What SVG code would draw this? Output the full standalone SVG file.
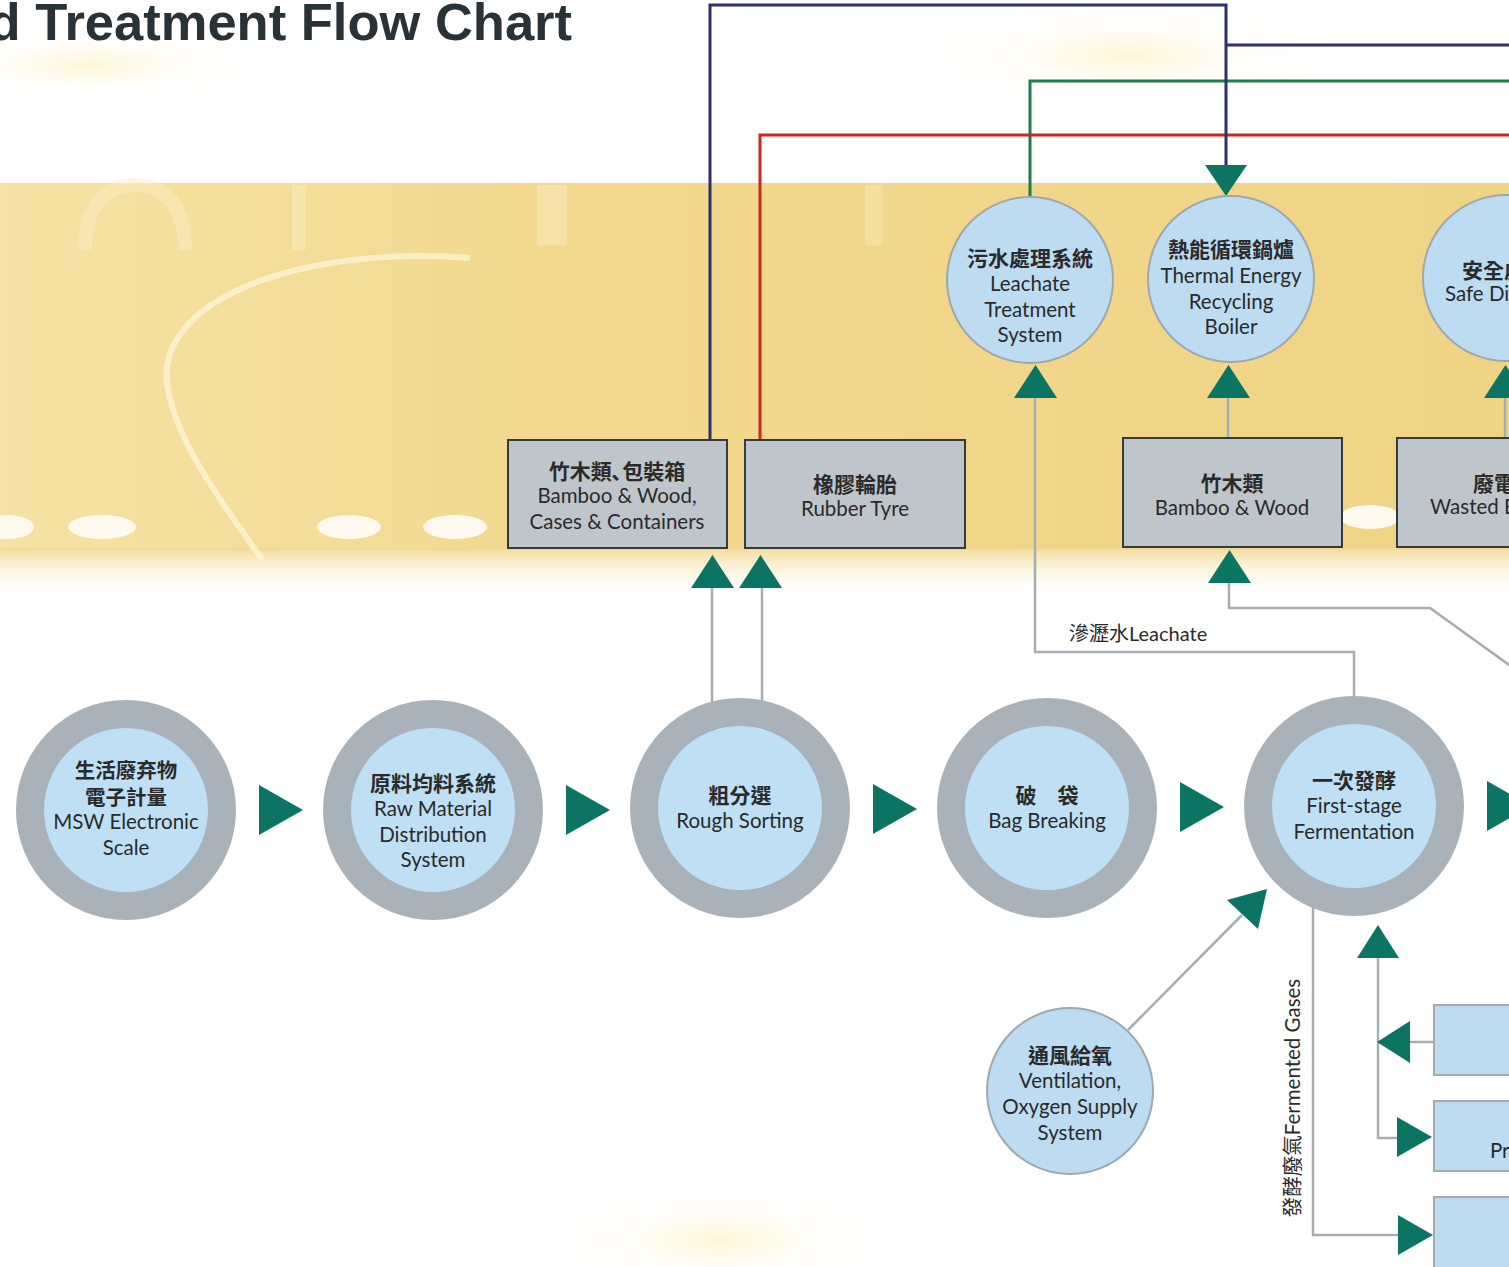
<svg xmlns="http://www.w3.org/2000/svg" width="1509" height="1267" viewBox="0 0 1509 1267">
<defs>
<linearGradient id="band" x1="0" y1="0" x2="1" y2="0">
<stop offset="0" stop-color="#f5e2a4"/>
<stop offset="0.35" stop-color="#f2d98f"/>
<stop offset="1" stop-color="#f0d485"/>
</linearGradient>
<linearGradient id="fade" x1="0" y1="0" x2="0" y2="1">
<stop offset="0" stop-color="#f2d98f" stop-opacity="0.9"/>
<stop offset="1" stop-color="#ffffff" stop-opacity="0"/>
</linearGradient>
<radialGradient id="glow" cx="0.5" cy="0.5" r="0.5">
<stop offset="0" stop-color="#fbf0b8" stop-opacity="0.6"/>
<stop offset="1" stop-color="#ffffff" stop-opacity="0"/>
</radialGradient>
</defs>
<style>
.cn{font-family:"Noto Sans CJK TC","Noto Sans CJK SC",sans-serif;font-weight:700;font-size:21px;fill:#2a2a2a;text-anchor:middle}
.en{font-family:Lato,"Noto Sans","Noto Sans CJK TC",sans-serif;font-size:20.5px;fill:#2a2a2a;text-anchor:middle}
.ring{fill:#a9b2b8}
.core{fill:#bfe0f4}
.sub{fill:#bddcf1;stroke:#9ea8ae;stroke-width:2}
.box{fill:#bec6cb;stroke:#363a3c;stroke-width:2}
.rbox{fill:#bddcf2;stroke:#a2abb1;stroke-width:2}
.tri{fill:#0b7462}
.gl{stroke:#a6aeb3;stroke-width:2.5;fill:none}
.navy{stroke:#2e2f6b;stroke-width:3;fill:none}
.green{stroke:#1f7c4c;stroke-width:3;fill:none}
.red{stroke:#c8281e;stroke-width:3;fill:none}
</style>
<rect width="1509" height="1267" fill="#ffffff"/>
<g id="background">
<ellipse cx="90" cy="65" rx="170" ry="35" fill="url(#glow)"/>
<ellipse cx="1130" cy="55" rx="200" ry="50" fill="url(#glow)"/>
<ellipse cx="720" cy="1240" rx="160" ry="50" fill="url(#glow)"/>
<rect x="0" y="183" width="1509" height="367" fill="url(#band)"/>
<rect x="0" y="548" width="1509" height="50" fill="url(#fade)"/>
<path d="M85,250 C85,200 110,185 135,185 C160,185 185,200 185,250" fill="none" stroke="#fbeec4" stroke-width="14" opacity="0.5"/>
<rect x="292" y="185" width="14" height="65" fill="#fbeec4" opacity="0.5"/>
<rect x="537" y="185" width="30" height="60" fill="#fbeec4" opacity="0.45"/>
<rect x="865" y="185" width="18" height="60" fill="#fbeec4" opacity="0.35"/>
<path d="M470,258 C300,245 150,300 168,390 C180,450 225,505 262,560" fill="none" stroke="#fdf6dc" stroke-width="6" opacity="0.7"/>
<ellipse cx="8" cy="527" rx="26" ry="12" fill="#fffaf0"/>
<ellipse cx="102" cy="527" rx="34" ry="12" fill="#fffaf0"/>
<ellipse cx="349" cy="527" rx="32" ry="12" fill="#fffaf0"/>
<ellipse cx="455" cy="527" rx="32" ry="12" fill="#fffaf0"/>
<ellipse cx="1370" cy="517" rx="30" ry="12" fill="#fffaf0"/>
</g>
<text id="title" x="572" y="40" font-family="Liberation Sans, Arial, sans-serif" font-weight="700" font-size="52.5" fill="#283237" text-anchor="end">d Treatment Flow Chart</text>
<g id="connectors">
<path class="green" d="M1030,197 V81 H1509"/>
<path class="red" d="M760,440 V135 H1509"/>
<path class="navy" d="M710,440 V5 H1226 V168 M1226,45 H1509"/>
<path class="tri" d="M1205,165 L1247,165 L1226,196 Z"/>
<path class="gl" d="M712,703 V586 M762,703 V586"/>
<path class="tri" d="M691,588 L734,588 L712.5,555 Z"/>
<path class="tri" d="M739,588 L782,588 L760.5,555 Z"/>
<path class="gl" d="M1354,698 V652 H1035 V396"/>
<path class="tri" d="M1014,398 L1057,398 L1035.5,365 Z"/>
<path class="gl" d="M1228,438 V396"/>
<path class="tri" d="M1207,398 L1250,398 L1228.5,365 Z"/>
<path class="gl" d="M1505,438 V396"/>
<path class="tri" d="M1484,398 L1527,398 L1505.5,365 Z"/>
<path class="gl" d="M1512,667 L1430,608 H1229 V581"/>
<path class="tri" d="M1208,583 L1251,583 L1229.5,550 Z"/>
<path class="tri" d="M259,785 L303,810 L259,835 Z"/>
<path class="tri" d="M566,785 L610,810 L566,835 Z"/>
<path class="tri" d="M873,784 L917,809 L873,834 Z"/>
<path class="tri" d="M1180,782 L1224,807 L1180,832 Z"/>
<path class="tri" d="M1487,781 L1531,806 L1487,831 Z"/>
<path class="gl" d="M1128,1030 L1242,915"/>
<path class="tri" d="M1227,900 L1267,889 L1258,929 Z"/>
<path class="gl" d="M1313,905 V1235 H1400"/>
<path class="tri" d="M1398,1215 L1433,1235 L1398,1255 Z"/>
<path class="gl" d="M1378,956 V1138 H1400 M1436,1042 H1408"/>
<path class="tri" d="M1357,958 L1399,958 L1378,925 Z"/>
<path class="tri" d="M1410,1021 L1410,1063 L1377,1042 Z"/>
<path class="tri" d="M1397,1117 L1432,1137 L1397,1157 Z"/>
<text x="1069" y="641" font-family="Lato, 'Noto Sans CJK TC', sans-serif" font-size="20" fill="#2a2a2a">滲瀝水Leachate</text>
<text transform="translate(1300,1098) rotate(-90)" font-family="Lato, 'Noto Sans CJK TC', sans-serif" font-size="20.5" fill="#2a2a2a" text-anchor="middle">發酵廢氣Fermented Gases</text>
</g>
<g id="leachate-system">
<circle class="sub" cx="1030" cy="280" r="83"/>
<text class="cn" x="1030" y="266">污水處理系統</text>
<text class="en" x="1030" y="291">Leachate</text>
<text class="en" x="1030" y="317">Treatment</text>
<text class="en" x="1030" y="342">System</text>
</g>
<g id="thermal-boiler">
<circle class="sub" cx="1231" cy="279" r="83"/>
<text class="cn" x="1231" y="257">熱能循環鍋爐</text>
<text class="en" x="1231" y="283">Thermal Energy</text>
<text class="en" x="1231" y="309">Recycling</text>
<text class="en" x="1231" y="334">Boiler</text>
</g>
<g id="safe-disposal">
<circle class="sub" cx="1506" cy="278" r="83"/>
<text class="cn" x="1462" y="278" style="text-anchor:start">安全處</text>
<text class="en" x="1445" y="301" style="text-anchor:start">Safe Di</text>
</g>
<g id="box-bamboo-cases">
<rect class="box" x="508" y="440" width="219" height="108"/>
<text class="cn" x="617" y="479">竹木類､包裝箱</text>
<text class="en" x="617" y="503">Bamboo &amp; Wood,</text>
<text class="en" x="617" y="529">Cases &amp; Containers</text>
</g>
<g id="box-rubber">
<rect class="box" x="745" y="440" width="220" height="108"/>
<text class="cn" x="855" y="492">橡膠輪胎</text>
<text class="en" x="855" y="516">Rubber Tyre</text>
</g>
<g id="box-bamboo">
<rect class="box" x="1123" y="438" width="219" height="109"/>
<text class="cn" x="1232" y="491">竹木類</text>
<text class="en" x="1232" y="515">Bamboo &amp; Wood</text>
</g>
<g id="box-wasted">
<rect class="box" x="1397" y="438" width="220" height="109"/>
<text class="cn" x="1473" y="491" style="text-anchor:start">廢電</text>
<text class="en" x="1430" y="514" style="text-anchor:start">Wasted B</text>
</g>
<g id="msw-scale">
<circle class="ring" cx="126" cy="810" r="110"/>
<circle class="core" cx="126" cy="810" r="82"/>
<text class="cn" x="126" y="778" style="font-size:20.5px">生活廢弃物</text>
<text class="cn" x="126" y="805" style="font-size:20.5px">電子計量</text>
<text class="en" x="126" y="829">MSW Electronic</text>
<text class="en" x="126" y="855">Scale</text>
</g>
<g id="raw-material">
<circle class="ring" cx="433" cy="810" r="110"/>
<circle class="core" cx="433" cy="810" r="82"/>
<text class="cn" x="433" y="791">原料均料系統</text>
<text class="en" x="433" y="816">Raw Material</text>
<text class="en" x="433" y="842">Distribution</text>
<text class="en" x="433" y="867">System</text>
</g>
<g id="rough-sorting">
<circle class="ring" cx="740" cy="808" r="110"/>
<circle class="core" cx="740" cy="808" r="82"/>
<text class="cn" x="740" y="803">粗分選</text>
<text class="en" x="740" y="828">Rough Sorting</text>
</g>
<g id="bag-breaking">
<circle class="ring" cx="1047" cy="808" r="110"/>
<circle class="core" cx="1047" cy="808" r="82"/>
<text class="cn" x="1047" y="803">破　袋</text>
<text class="en" x="1047" y="828">Bag Breaking</text>
</g>
<g id="first-fermentation">
<circle class="ring" cx="1354" cy="806" r="110"/>
<circle class="core" cx="1354" cy="806" r="82"/>
<text class="cn" x="1354" y="788">一次發酵</text>
<text class="en" x="1354" y="813">First-stage</text>
<text class="en" x="1354" y="839">Fermentation</text>
</g>
<g id="ventilation">
<circle class="sub" cx="1070" cy="1091" r="83"/>
<text class="cn" x="1070" y="1063">通風給氧</text>
<text class="en" x="1070" y="1088">Ventilation,</text>
<text class="en" x="1070" y="1114">Oxygen Supply</text>
<text class="en" x="1070" y="1140">System</text>
</g>
<g id="right-box-1">
<rect class="rbox" x="1434" y="1005" width="100" height="70"/>
</g>
<g id="right-box-2">
<rect class="rbox" x="1434" y="1101" width="100" height="70"/>
<text class="en" x="1490" y="1158" style="text-anchor:start">Pr</text>
</g>
<g id="right-box-3">
<rect class="rbox" x="1434" y="1197" width="100" height="80"/>
</g>
</svg>
